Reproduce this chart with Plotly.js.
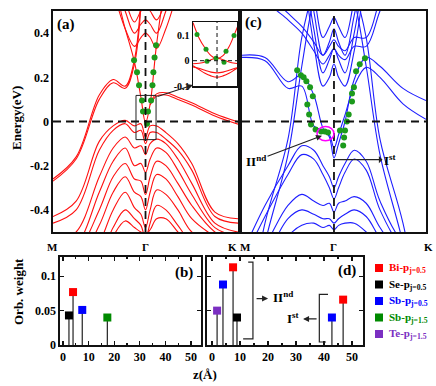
<!DOCTYPE html>
<html>
<head>
<meta charset="utf-8">
<script src="https://cdn.plot.ly/plotly-3.0.1.min.js"></script>
<style>body{margin:0;background:#fff;overflow:hidden}</style>
</head>
<body>
<div id="myPlot" style="width:436px;height:386px"></div>
<script>
/**
 * k-path shared by both band panels: M (-1) .. Gamma (0) .. K (1)
 */
const kPath = [-1, -0.75, -0.5, -0.35, -0.22, -0.12, -0.05, 0, 0.05, 0.12, 0.22, 0.35, 0.5, 0.75, 1];

// panel (a) bands, energies in eV at kPath (null = band leaves the window)
const redC1 = [0.8, 0.78, 0.74, 0.62, 0.42, 0.27, 0.11, -0.005, 0.08, 0.35, 0.62, 0.78, 0.8, 0.8, 0.8];
const redC2 = [-0.26, -0.16, 0.12, 0.19, 0.16, 0.28, 0.55, null, 0.085, 0.125, 0.13, 0.11, 0.085, 0.035, -0.002];
const redC3 = [-0.27, -0.17, 0.1, 0.175, 0.15, 0.26, 0.52, null, 0.075, 0.115, 0.12, 0.1, 0.075, 0.025, -0.012];
const redC4 = [0.85, 0.8, 0.72, 0.58, 0.42, 0.34, 0.38, 0.4, 0.38, 0.33, 0.42, 0.58, 0.72, 0.8, 0.85];
const redC5 = [0.9, 0.85, 0.78, 0.66, 0.5, 0.4, 0.44, 0.46, 0.44, 0.4, 0.5, 0.66, 0.78, 0.85, 0.9];
const redC6 = [0.95, 0.9, 0.85, 0.75, 0.55, 0.45, 0.5, 0.52, 0.5, 0.46, 0.55, 0.75, 0.85, 0.9, 0.95];
const redV1 = [-0.43, -0.36, -0.09, -0.02, 0.005, -0.02, -0.01, -0.07, -0.02, -0.02, -0.05, -0.1, -0.19, -0.41, -0.44];
const redV2 = [-0.46, -0.4, -0.13, -0.04, -0.01, -0.05, -0.04, -0.1, -0.05, -0.05, -0.08, -0.13, -0.22, -0.43, -0.46];
const redV3 = [-0.55, -0.5, -0.25, -0.12, -0.07, -0.12, -0.11, -0.15, -0.1, -0.08, -0.1, -0.17, -0.28, -0.46, -0.5];
const redV4 = [-0.6, -0.56, -0.32, -0.18, -0.12, -0.2, -0.19, -0.23, -0.17, -0.12, -0.14, -0.22, -0.33, -0.48, -0.52];
const redV5 = [-0.65, -0.6, -0.4, -0.25, -0.19, -0.26, -0.27, -0.33, -0.25, -0.18, -0.2, -0.28, -0.38, -0.5, -0.55];
const redV6 = [-0.7, -0.65, -0.47, -0.32, -0.25, -0.32, -0.34, -0.4, -0.32, -0.24, -0.26, -0.34, -0.44, -0.52, -0.57];
const redV7 = [-0.75, -0.7, -0.55, -0.4, -0.32, -0.39, -0.42, -0.48, -0.4, -0.31, -0.33, -0.4, -0.5, -0.56, -0.6];
const redV8 = [-0.8, -0.75, -0.62, -0.48, -0.4, -0.44, -0.47, -0.53, -0.46, -0.38, -0.4, -0.47, -0.55, -0.6, -0.65];
const redV9 = [-0.82, -0.78, -0.66, -0.52, -0.45, -0.48, -0.5, -0.51, -0.49, -0.44, -0.44, -0.5, -0.57, -0.62, -0.66];

// panel (c) bands
const blueC1 = [0.3, 0.29, 0.18, 0.21, 0.12, -0.03, -0.07, -0.165, -0.1, 0.0, 0.19, 0.29, 0.25, 0.15, 0.095];
const blueC2 = [0.29, 0.275, 0.15, 0.16, -0.02, -0.04, -0.06, -0.12, -0.06, 0.03, 0.16, 0.245, 0.2, 0.08, 0.01];
const blueD1 = [-1.0, -0.46, -0.08, 0.38, 0.6, 0.72, 0.76, 0.78, 0.76, 0.72, 0.6, 0.38, -0.08, -0.46, -1.0];
const blueD2 = [-1.05, -0.55, -0.15, 0.25, 0.55, 0.66, 0.7, 0.72, 0.7, 0.66, 0.55, 0.25, -0.15, -0.55, -1.05];
const blueU1 = [1.2, 1.1, 0.95, 0.7, 0.35, 0.16, 0.2, 0.26, 0.2, 0.16, 0.32, 0.65, 0.9, 1.1, 1.2];
const blueU2 = [1.2, 1.1, 1.0, 0.75, 0.42, 0.22, 0.28, 0.33, 0.28, 0.22, 0.4, 0.7, 0.95, 1.1, 1.2];
const blueU3 = [1.2, 1.1, 1.0, 0.8, 0.5, 0.3, 0.36, 0.42, 0.36, 0.3, 0.48, 0.75, 1.0, 1.1, 1.2];
const blueU4 = [1.2, 1.1, 1.0, 0.85, 0.58, 0.38, 0.43, 0.47, 0.43, 0.38, 0.55, 0.8, 1.0, 1.1, 1.2];
const blueU5 = [0.9, 0.56, 0.46, 0.4, 0.32, 0.26, 0.3, 0.33, 0.3, 0.28, 0.34, 0.34, 0.5, 0.75, 0.9];
const blueU6 = [0.95, 0.6, 0.49, 0.43, 0.36, 0.3, 0.34, 0.37, 0.34, 0.32, 0.38, 0.38, 0.55, 0.8, 0.95];
const blueV1 = [-0.6, -0.38, -0.2, -0.11, -0.13, -0.2, -0.25, -0.3, -0.25, -0.19, -0.13, -0.18, -0.36, -0.55, -0.62];
const blueV2 = [-0.64, -0.43, -0.24, -0.15, -0.17, -0.24, -0.3, -0.35, -0.3, -0.23, -0.17, -0.22, -0.4, -0.58, -0.66];
const blueV3 = [-0.7, -0.56, -0.38, -0.33, -0.36, -0.38, -0.37, -0.41, -0.37, -0.36, -0.34, -0.37, -0.48, -0.62, -0.72];
const blueV4 = [-0.75, -0.62, -0.44, -0.4, -0.42, -0.44, -0.44, -0.46, -0.44, -0.42, -0.4, -0.43, -0.53, -0.67, -0.78];
const blueV5 = [-0.8, -0.7, -0.52, -0.47, -0.46, -0.48, -0.47, -0.49, -0.47, -0.46, -0.46, -0.5, -0.58, -0.7, -0.82];

// green (surface-state) points
const dotsAk = [-0.124, -0.092, -0.07, -0.038, -0.027, 0.016, 0.027, 0.06, 0.075, 0.085, 0.098, 0.114];
const dotsAe = [0.277, 0.223, 0.164, 0.095, 0.045, -0.01, 0.045, 0.095, 0.164, 0.223, 0.29, 0.345];
const dotsCk = [-0.40, -0.36, -0.33, -0.30, -0.26, -0.23, -0.29, -0.27, -0.25, -0.20, -0.14, -0.10, -0.065,
                0.065, 0.10, 0.11, 0.12, 0.14, 0.16, 0.196, 0.196, 0.217, 0.24, 0.28, 0.337];
const dotsCe = [0.232, 0.209, 0.2, 0.182, 0.155, 0.114, 0.077, 0.032, -0.014, -0.036, -0.045, -0.045, -0.05,
                -0.041, -0.109, -0.073, -0.041, 0.0, 0.032, 0.091, 0.127, 0.155, 0.227, 0.259, 0.286];

// inset (zoom around Gamma)
const kInset = [-0.12, -0.09, -0.06, -0.03, 0, 0.03, 0.06, 0.09, 0.12];
const insetB1 = [0.15, 0.09, 0.05, 0.02, 0.008, 0.02, 0.055, 0.11, 0.17];
const insetB2 = [-0.012, -0.01, -0.005, 0.004, 0.01, 0.004, -0.005, -0.01, -0.012];
const insetB3 = [-0.025, -0.03, -0.038, -0.045, -0.048, -0.045, -0.038, -0.03, -0.025];
const insetB4 = [-0.02, -0.035, -0.05, -0.06, -0.065, -0.06, -0.05, -0.035, -0.02];
const dotsIk = [-0.1, -0.055, -0.05, -0.005, 0.035, 0.045, 0.085];
const dotsIe = [0.104, 0.045, -0.002, 0.01, -0.006, 0.037, 0.1];

// orbital weights vs z
const speciesNames = ['Bi-p<sub>j=0.5</sub>', 'Se-p<sub>j=0.5</sub>', 'Sb-p<sub>j=0.5</sub>', 'Sb-p<sub>j=1.5</sub>', 'Te-p<sub>j=1.5</sub>'];
const speciesColors = ['#ff0000', '#000000', '#0000ff', '#008a00', '#7b2fc2'];
const panelBz = [2.3, 3.9, 7.5, 17.3];
const panelBw = [0.043, 0.077, 0.051, 0.040];
const panelBkind = [1, 0, 2, 3];
const panelDz = [1.8, 3.9, 7.5, 8.9, 42.8, 46.8];
const panelDw = [0.050, 0.088, 0.113, 0.040, 0.040, 0.066];
const panelDkind = [4, 2, 0, 1, 2, 0];

const myPlot = document.getElementById("myPlot");
const serif = "Liberation Serif, Times New Roman, serif";

const data = [];

function addBands(bands, kx, color, xa, ya, width) {
  bands.forEach(b => data.push({
    x: kx, y: b, xaxis: xa, yaxis: ya, mode: "lines", type: "scatter",
    line: {color: color, width: width, shape: "spline", smoothing: 1},
    hoverinfo: "skip", showlegend: false
  }));
}

function addDots(kx, ey, xa, ya, size) {
  data.push({
    x: kx, y: ey, xaxis: xa, yaxis: ya, mode: "markers", type: "scatter",
    marker: {color: "#1c9a1c", size: size}, hoverinfo: "skip", showlegend: false
  });
}

addBands([redC1, redC2, redC3, redC4, redC5, redC6, redV1, redV2, redV3, redV4, redV5, redV6, redV7, redV8, redV9],
  kPath, "#ff1010", "x", "y", 1.1);
addDots(dotsAk, dotsAe, "x", "y", 6);
addBands([blueC1, blueC2, blueD1, blueD2, blueU1, blueU2, blueU3, blueU4, blueU5, blueU6,
  blueV1, blueV2, blueV3, blueV4, blueV5], kPath, "#1e1eff", "x2", "y2", 1.1);
addDots(dotsCk, dotsCe, "x2", "y2", 6);
addBands([insetB1, insetB2, insetB3, insetB4], kInset, "#ff1010", "x5", "y5", 1.1);
addDots(dotsIk, dotsIe, "x5", "y5", 5);

// stems
function addStems(zs, ws, xa, ya) {
  const sx = [], sy = [];
  zs.forEach((z, i) => { sx.push(z, z, null); sy.push(0, ws[i], null); });
  data.push({x: sx, y: sy, xaxis: xa, yaxis: ya, mode: "lines", type: "scatter",
    line: {color: "#222", width: 1.2}, hoverinfo: "skip", showlegend: false});
}
addStems(panelBz, panelBw, "x3", "y3");
addStems(panelDz, panelDw, "x4", "y4");

// squares, coloured by species
[[panelBz, panelBw, panelBkind, "x3", "y3"], [panelDz, panelDw, panelDkind, "x4", "y4"]].forEach(p => {
  data.push({
    x: p[0], y: p[1], xaxis: p[3], yaxis: p[4], mode: "markers", type: "scatter",
    marker: {symbol: "square", size: 8, color: p[2].map(s => speciesColors[s])},
    hoverinfo: "skip", showlegend: false
  });
});

// key: one square per species on its own small axis
data.push({
  x: speciesNames.map(() => 0), y: speciesNames.map((n, i) => i), xaxis: "x6", yaxis: "y6",
  mode: "markers", type: "scatter", marker: {symbol: "square", size: 8, color: speciesColors},
  hoverinfo: "skip", showlegend: false
});

/**
 * Layout
 */
const frame = {showline: true, mirror: true, linewidth: 1.6, linecolor: "#111", showgrid: false, zeroline: false};
const bandY = [0.399, 0.9715];
const orbY = [0.1062, 0.3342];

const dash = "8px,5px";
function dashLines(xa, ya, w) {
  return [
    {type: "line", xref: xa + " domain", x0: 0, x1: 1, yref: ya, y0: 0, y1: 0, line: {color: "#111", width: w, dash: dash}},
    {type: "line", yref: ya + " domain", y0: 0, y1: 1, xref: xa, x0: 0, x1: 0, line: {color: "#111", width: w, dash: dash}}
  ];
}

const shapes = [].concat(
  dashLines("x", "y", 1.8),
  dashLines("x2", "y2", 1.8),
  [
    {type: "line", xref: "x5 domain", x0: 0, x1: 1, yref: "y5", y0: 0, y1: 0, line: {color: "#111", width: 1, dash: "4px,3px"}},
    {type: "line", yref: "y5 domain", y0: 0, y1: 1, xref: "x5", x0: 0, x1: 0, line: {color: "#111", width: 1, dash: "4px,3px"}},
    {type: "rect", xref: "x", yref: "y", x0: -0.103, x1: 0.114, y0: -0.082, y1: 0.118, line: {color: "#222", width: 1}},
    {type: "circle", xref: "x2", yref: "y2", x0: -0.184, x1: 0.0, y0: -0.087, y1: -0.023, line: {color: "#ff00ff", width: 1.5}},
    {type: "path", xref: "x4", yref: "y4", path: "M 12.9 0.1206 L 14.6 0.1206 L 14.6 0.0088 L 11.1 0.0088", line: {color: "#222", width: 1.2}},
    {type: "path", xref: "x4", yref: "y4", path: "M 41.4 0.0735 L 38.3 0.0735 L 38.3 0.0044 L 40.7 0.0044", line: {color: "#222", width: 1.2}}
  ]
);

function paperText(text, px, py, size, extra) {
  return Object.assign({xref: "paper", yref: "paper", x: px / 436, y: 1 - py / 386, text: text,
    xanchor: "center", yanchor: "middle", showarrow: false, font: {size: size}}, extra || {});
}

const annotations = [
  paperText("(a)", 66, 24, 15), paperText("(c)", 254, 23, 15),
  paperText("(b)", 184, 272, 15), paperText("(d)", 347, 270, 15),
  paperText("M", 52, 247, 11), paperText("Γ", 145, 247, 11), paperText("K", 232, 247, 11),
  paperText("M", 245, 247, 11), paperText("Γ", 333, 247, 11), paperText("K", 428, 247, 11),
  paperText("Energy(eV)", 17, 118, 13, {textangle: -90}),
  paperText("Orb. weight", 18, 292, 13, {textangle: -90}),
  paperText("z(Å)", 205, 374, 13),
  {xref: "paper", yref: "paper", x: 193 / 436, y: 1 - 85 / 386, ax: -37, ay: 12, text: "",
    showarrow: true, arrowhead: 2, arrowsize: 1, arrowwidth: 1.2, arrowcolor: "#222"},
  {xref: "x2", yref: "y2", x: -0.13, y: -0.064, ax: -66, ay: 25, text: "II<sup>nd</sup>",
    showarrow: true, arrowhead: 2, arrowsize: 1, arrowwidth: 1.2, arrowcolor: "#222", font: {size: 13}},
  {xref: "x2", yref: "y2", x: 0, y: -0.1727, ax: 56, ay: 0, text: "I<sup>st</sup>", arrowside: "start",
    showarrow: true, arrowhead: 2, arrowsize: 1, arrowwidth: 1.2, arrowcolor: "#222", font: {size: 13}},
  {xref: "x4", yref: "y4", x: 20, y: 0.0676, ax: -13, ay: 0, text: "",
    showarrow: true, arrowhead: 2, arrowsize: 1, arrowwidth: 1.2, arrowcolor: "#222"},
  {xref: "x4", yref: "y4", x: 21, y: 0.07, xanchor: "left", text: "II<sup>nd</sup>", showarrow: false, font: {size: 13}},
  {xref: "x4", yref: "y4", x: 32.5, y: 0.038, ax: 15, ay: 0, text: "",
    showarrow: true, arrowhead: 2, arrowsize: 1, arrowwidth: 1.2, arrowcolor: "#222"},
  {xref: "x4", yref: "y4", x: 31.8, y: 0.04, xanchor: "right", text: "I<sup>st</sup>", showarrow: false, font: {size: 13}}
];

// key texts next to the key squares
speciesNames.forEach((name, i) => annotations.push(paperText(
  '<span style="color:' + speciesColors[i] + '">' + name + '</span>', 387, 268 + 16.5 * i, 11, {xanchor: "left"})));

const orbX = {ticks: "inside", ticklen: 4, tickwidth: 1.2, tickcolor: "#111", mirror: "ticks",
  tickvals: [0, 10, 20, 30, 40, 50], minor: {dtick: 5, tick0: 0, ticks: "inside", ticklen: 2.5, tickcolor: "#111"}};
const orbYax = {ticks: "inside", ticklen: 4, tickwidth: 1.2, tickcolor: "#111", mirror: "ticks",
  range: [0, 0.128], tickvals: [0, 0.05, 0.1], ticktext: ["0", "0.05", "0.1"]};
const hidden = {visible: false, showgrid: false, zeroline: false, fixedrange: true};

const layout = {
  width: 436,
  height: 386,
  margin: {l: 0, r: 0, t: 0, b: 0, autoexpand: false},
  paper_bgcolor: "white",
  plot_bgcolor: "white",
  font: {family: serif, size: 12, color: "#000", weight: "bold"},
  showlegend: false,
  xaxis: Object.assign({}, frame, {domain: [0.1216, 0.5459], range: [-1, 1], showticklabels: false, ticks: "", anchor: "y"}),
  yaxis: Object.assign({}, frame, {domain: bandY, range: [-0.5, 0.5], anchor: "x",
    tickvals: [-0.4, -0.2, 0, 0.2, 0.4], ticktext: ["-0.4", "-0.2", "0", "0.2", "0.4"], ticks: ""}),
  xaxis2: Object.assign({}, frame, {domain: [0.555, 0.977], range: [-1, 1], showticklabels: false, ticks: "", anchor: "y2"}),
  yaxis2: Object.assign({}, frame, {domain: bandY, range: [-0.5, 0.5], showticklabels: false, ticks: "", anchor: "x2"}),
  xaxis3: Object.assign({}, frame, orbX, {domain: [0.1376, 0.461], range: [-1.2, 53.9], anchor: "y3"}),
  yaxis3: Object.assign({}, frame, orbYax, {domain: orbY, anchor: "x3"}),
  xaxis4: Object.assign({}, frame, orbX, {domain: [0.4748, 0.8326], range: [-1.8, 53.9], anchor: "y4"}),
  yaxis4: Object.assign({}, frame, orbYax, {domain: orbY, showticklabels: false, anchor: "x4"}),
  xaxis5: Object.assign({}, frame, {domain: [0.4427, 0.5436], range: [-0.12, 0.1], showticklabels: false, ticks: "",
    linewidth: 1.5, anchor: "y5"}),
  yaxis5: Object.assign({}, frame, {domain: [0.7772, 0.943], range: [-0.1, 0.153], ticks: "", linewidth: 1.5,
    tickvals: [-0.1, 0, 0.1], ticktext: ["-0.1", "0", "0.1"], tickfont: {size: 10}, anchor: "x5"}),
  xaxis6: Object.assign({}, hidden, {domain: [374 / 436, 384 / 436], range: [-1, 1], anchor: "y6"}),
  yaxis6: Object.assign({}, hidden, {domain: [1 - 342.25 / 386, 1 - 259.75 / 386], range: [4.5, -0.5], anchor: "x6"}),
  shapes: shapes,
  annotations: annotations
};

Plotly.newPlot(myPlot, data, layout, {displayModeBar: false, staticPlot: true});
</script>
</body>
</html>
